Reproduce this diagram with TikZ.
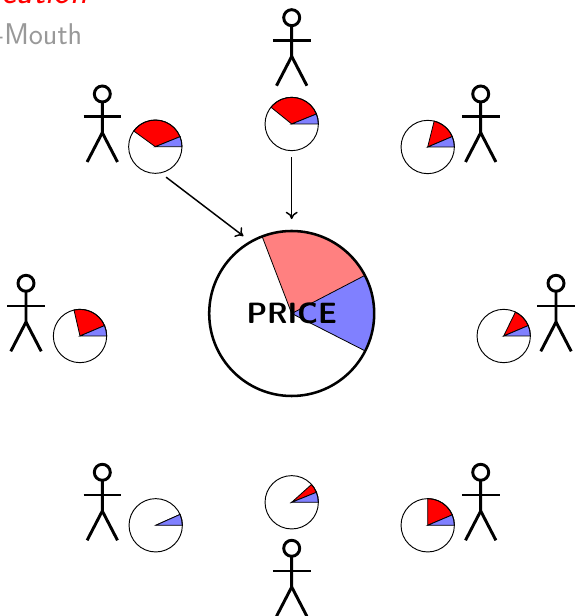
\documentclass[tikz,border=0pt]{standalone}
\usepackage{xcolor}
\usepackage{tikz}
\usetikzlibrary{arrows.meta, positioning, calc}
\definecolor{LabelGrey}{HTML}{999999}

% a stick figure, #1 is the centre of its head
\newcommand{\stickman}[1]{
    \draw [stick] (#1) circle (8);
    \draw [stick] ($(#1)+(0,-8)$) -- ($(#1)+(0,-38.7)$) -- ($(#1)+(-15.2,-68)$);
    \draw [stick] ($(#1)+(0,-38.7)$) -- ($(#1)+(15.2,-68)$);
    \draw [stick] ($(#1)+(-18.8,-22.7)$) -- ($(#1)+(18.8,-22.7)$);
}

\begin{document}
\begin{tikzpicture}[x=0.75pt, y=0.75pt, >={To[length=5.5pt,width=9pt]}]
    \tikzstyle{stick} = [draw=black, line width=2.2pt]
    \tikzstyle{opinion} = [circle, draw=black, line width=0.7pt, inner sep=0pt, minimum size=40pt]
    \tikzstyle{market} = [circle, draw=black, line width=1.9pt, inner sep=0pt, minimum size=123.75pt]
    \tikzstyle{wedge} = [draw=black, line width=0.6pt]
    \tikzstyle{line} = [draw, ->, line width=1.1pt]
    \useasboundingbox (0,0) rectangle (574,616);

    % the large pie
    \coordinate (centre) at (291.7,302.5);
    \fill [red!50] (centre) -- +(27.5:82.5) arc (27.5:111:82.5) -- cycle;
    \fill [blue!50] (centre) -- +(-27:82.5) arc (-27:27.5:82.5) -- cycle;
    \draw [wedge] (centre) -- +(111:82.5);
    \draw [wedge] (centre) -- +(27.5:82.5);
    \draw [wedge] (centre) -- +(-27:82.5);
    \node [market, font=\sffamily\bfseries\fontsize{22}{26}\selectfont] (price) at (centre) {PRICE};

    % the small pies: name/x/y/end of blue/end of red
    \foreach \name/\px/\py/\blueend/\redend in {
        tl/155.3/469.3/22/144, top/291.7/492/22/141, tr/427.7/469/23/76,
        lf/80/280/23/103, rt/503.7/280/23/64,
        bl/155.7/90.7/24/24, bot/291.7/113.7/22/42, br/427.7/90.7/23/90} {
        \coordinate (c\name) at (\px,\py);
        \draw [wedge, fill=red] (c\name) -- +(\blueend:26.7) arc (\blueend:\redend:26.7) -- cycle;
        \draw [wedge, fill=blue!50] (c\name) -- +(0:26.7) arc (0:\blueend:26.7) -- cycle;
        \node [opinion] (pie\name) at (c\name) {};
    }

    % the people
    \stickman{102.3,522}
    \stickman{291.7,598.3}
    \stickman{480.7,522}
    \stickman{26,332.7}
    \stickman{556,332.7}
    \stickman{102.3,143.7}
    \stickman{291.7,67.7}
    \stickman{480.7,143.7}

    % what is left of the title
    \node [anchor=base east, inner sep=0pt, text=red, font=\sffamily\itshape\fontsize{27}{32}\selectfont] (title) at (88,612) {cation};
    \node [anchor=base east, inner sep=0pt, text=LabelGrey, font=\sffamily\fontsize{22.5}{27}\selectfont] (subtitle) at (82.5,571.5) {-Mouth};

    \path [line, shorten <=4.9pt, shorten >=6pt] (pietl.-78) -- (price.120);
    \path [line, shorten <=4.5pt, shorten >=8pt] (pietop) -- (price);
\end{tikzpicture}
\end{document}
